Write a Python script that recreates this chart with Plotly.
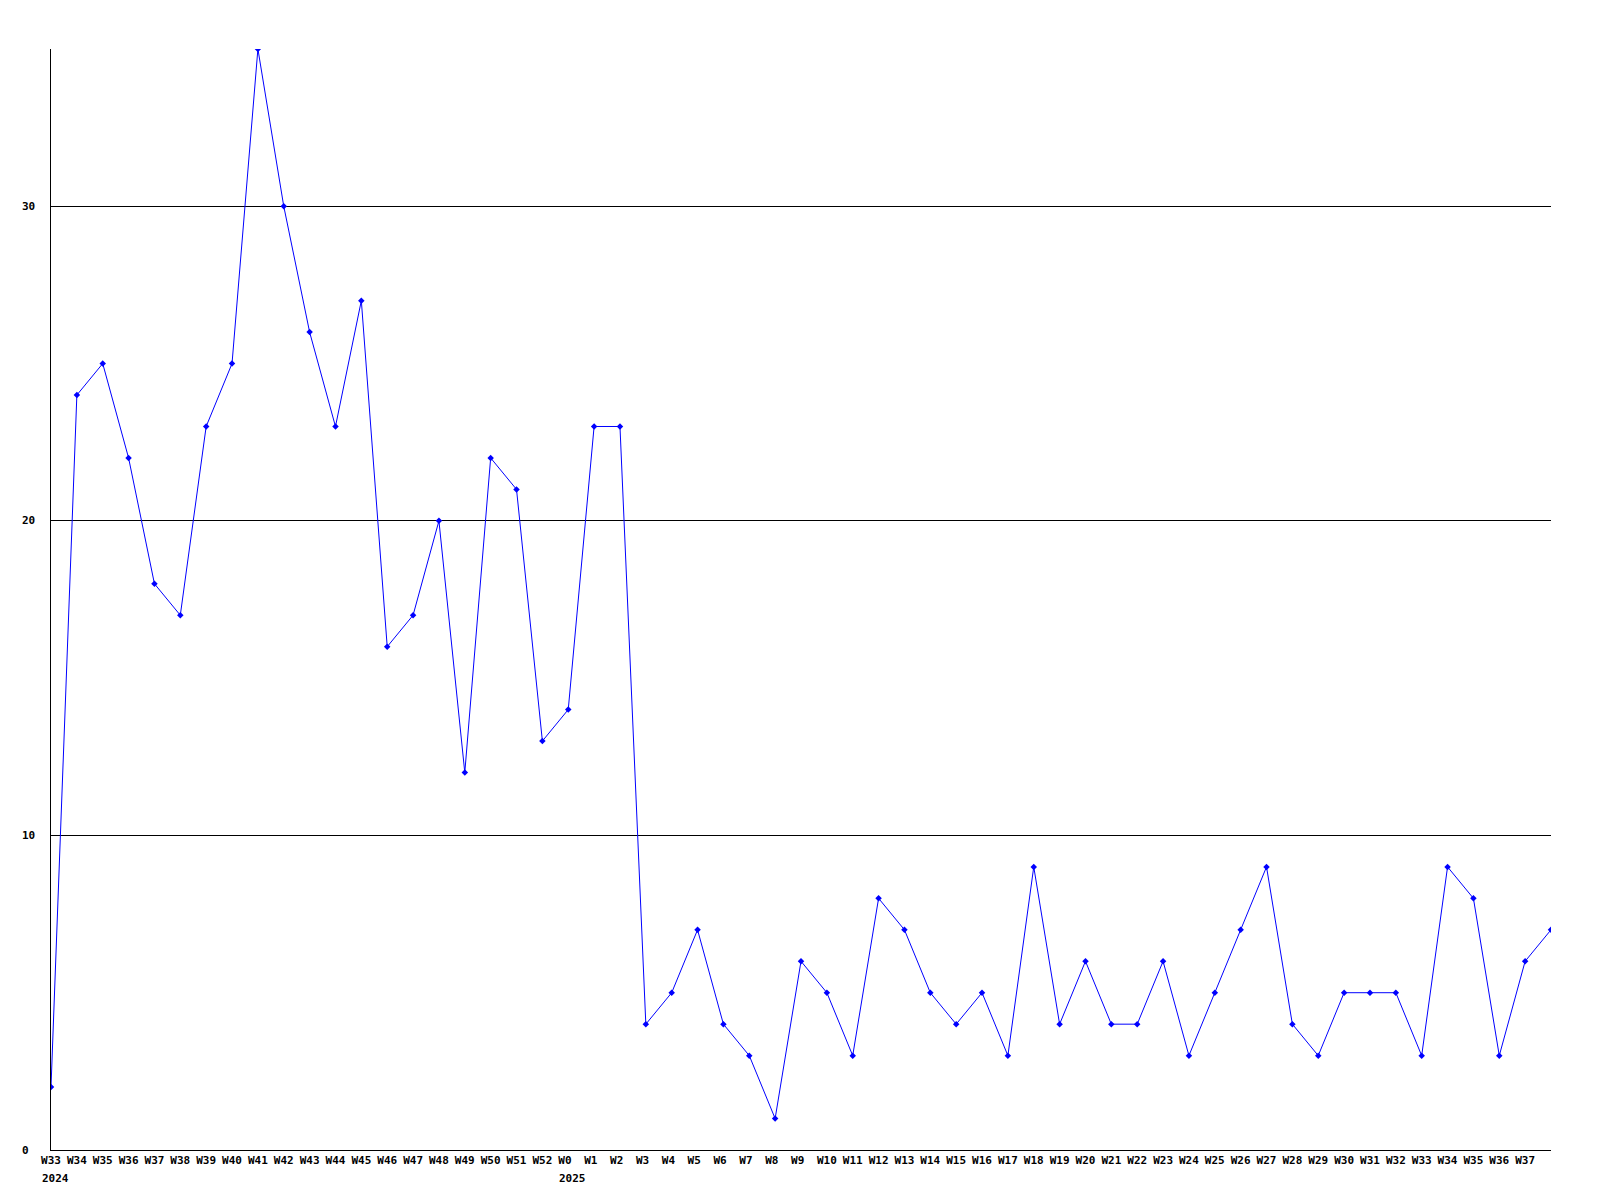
import plotly.graph_objects as go

weeks_2024 = ["W33", "W34", "W35", "W36", "W37", "W38", "W39", "W40", "W41", "W42",
              "W43", "W44", "W45", "W46", "W47", "W48", "W49", "W50", "W51", "W52"]
weeks_2025 = ["W0", "W1", "W2", "W3", "W4", "W5", "W6", "W7", "W8", "W9", "W10",
              "W11", "W12", "W13", "W14", "W15", "W16", "W17", "W18", "W19", "W20",
              "W21", "W22", "W23", "W24", "W25", "W26", "W27", "W28", "W29", "W30",
              "W31", "W32", "W33", "W34", "W35", "W36", "W37", ""]
year_labels = ["2024", "2025"]
values = [2, 24, 25, 22, 18, 17, 23, 25, 35, 30, 26, 23, 27, 16, 17, 20, 12, 22, 21, 13,
          14, 23, 23, 4, 5, 7, 4, 3, 1, 6, 5, 3, 8, 7, 5, 4, 5, 3, 9, 4, 6, 4, 4, 6,
          3, 5, 7, 9, 4, 3, 5, 5, 5, 3, 9, 8, 3, 6, 7]
y_ticks = [0, 10, 20, 30]

labels = weeks_2024 + weeks_2025
xs = list(range(len(labels)))
FONT = "DejaVu Sans Mono"


def fmt(t):
    # labels are left-aligned in the reference: pad short ones so centering matches
    if not t:
        return ""
    return "<b>%s</b>" % (t + "\u00a0" * (3 - len(t)))


fig = go.Figure()
fig.add_trace(go.Scatter(
    x=xs, y=values, mode="lines+markers",
    line=dict(color="#0000ff", width=1),
    marker=dict(symbol="diamond", size=5, color="#0000ff"),
    hoverinfo="skip",
))

annotations = []
for v in y_ticks:
    annotations.append(dict(x=0, xref="paper", y=v, yref="y", text="<b>%d</b>" % v,
                            showarrow=False, xanchor="left", xshift=-31,
                            font=dict(family=FONT, size=11, color="black")))
year_idx = [0, len(weeks_2024)]
for i, yl in zip(year_idx, year_labels):
    annotations.append(dict(x=i, xref="x", y=0, yref="paper", text="<b>%s</b>" % yl,
                            showarrow=False, xanchor="left", yanchor="top",
                            xshift=-11, yshift=-20,
                            font=dict(family=FONT, size=11, color="black")))

fig.update_layout(
    width=1584, height=1184,
    margin=dict(l=43, r=41, t=41, b=42),
    paper_bgcolor="white", plot_bgcolor="white",
    showlegend=False,
    annotations=annotations,
    xaxis=dict(
        range=[0, len(labels) - 1],
        tickvals=xs, ticktext=[fmt(t) for t in labels],
        tickangle=0,
        tickfont=dict(family=FONT, size=11, color="black"),
        showgrid=False, zeroline=False,
        showline=True, linecolor="black", linewidth=1,
        ticks="", ticklen=0,
    ),
    yaxis=dict(
        range=[0, 35],
        tickvals=y_ticks, showticklabels=False,
        showgrid=True, gridcolor="black", gridwidth=1,
        zeroline=False,
        showline=True, linecolor="black", linewidth=1,
        ticks="",
    ),
)

fig.write_html("out.html")
